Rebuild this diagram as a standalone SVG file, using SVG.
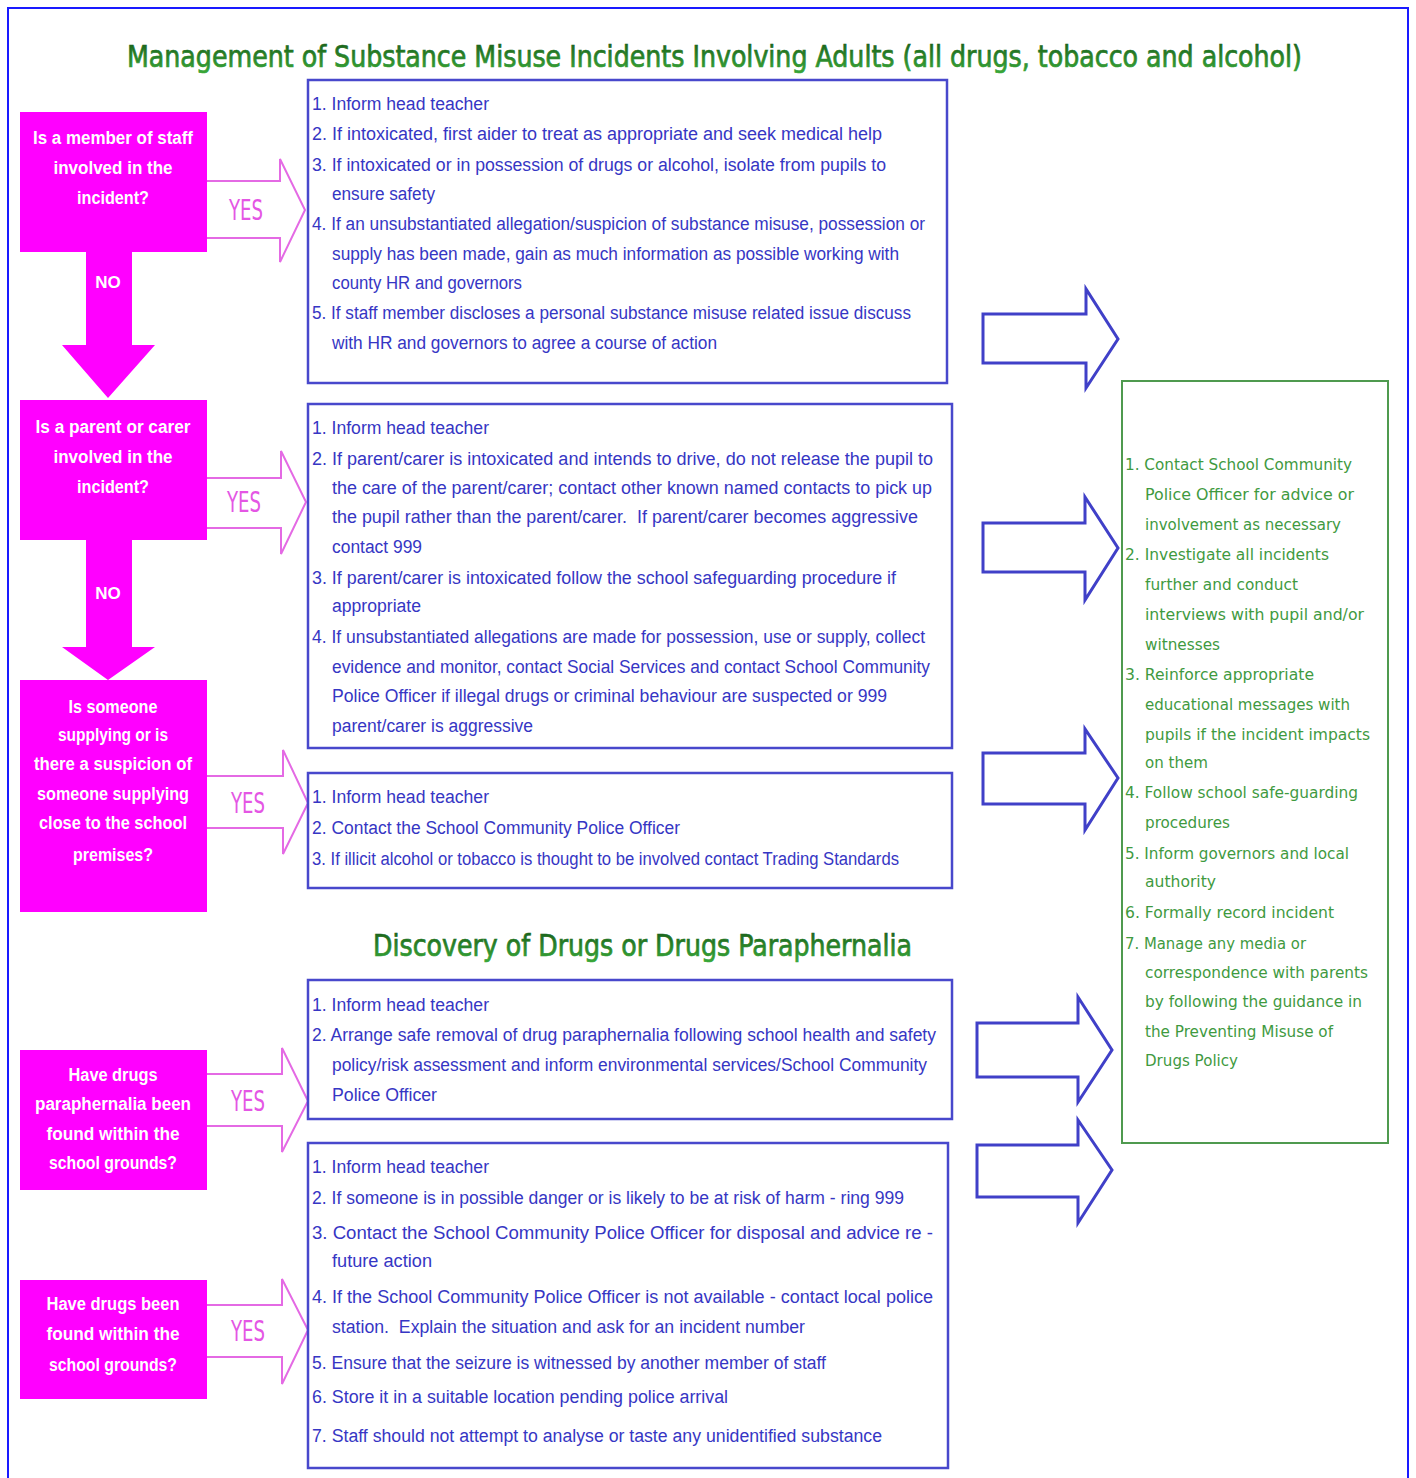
<svg xmlns="http://www.w3.org/2000/svg" width="1416" height="1478" viewBox="0 0 1416 1478">
<defs>
<linearGradient id="tg" x1="0" y1="0" x2="0" y2="1">
<stop offset="0" stop-color="#175a17"/>
<stop offset="1" stop-color="#3aaa3a"/>
</linearGradient>
<style>
.bt{font-family:"Liberation Sans",Arial,sans-serif;font-size:18px;fill:#3636c4}
.pt{font-family:"Liberation Sans",Arial,sans-serif;font-weight:bold;font-size:18px;fill:#ffffff;text-anchor:middle}
.gt{font-family:"DejaVu Sans",Verdana,sans-serif;font-size:15px;fill:#3f9a3f}
.yes{font-family:"DejaVu Sans Condensed","DejaVu Sans",sans-serif;font-size:28px;fill:#e456e4;text-anchor:middle}
.no{font-family:"Liberation Sans",Arial,sans-serif;font-weight:bold;font-size:17px;fill:#ffffff;text-anchor:middle}
.title{font-family:"DejaVu Sans Condensed","DejaVu Sans",sans-serif;font-size:30px;fill:url(#tg);stroke:url(#tg);stroke-width:0.7}
.pbox{fill:#ff00ff}
.bbox{fill:#ffffff;stroke:#4848cc;stroke-width:2.5}
.gbox{fill:#ffffff;stroke:#4f9a4f;stroke-width:2}
.parr{fill:#ff00ff}
.yarr{fill:#ffffff;stroke:#e46ae4;stroke-width:2}
.barr{fill:#ffffff;stroke:#4040c8;stroke-width:3}
</style>
</defs>
<rect x="0" y="0" width="1416" height="1478" fill="#ffffff"/>
<rect x="8" y="8" width="1400" height="1490" fill="none" stroke="#1a1aff" stroke-width="2"/>

<g id="titles">
<text class="title" x="127" y="67" textLength="1175" lengthAdjust="spacingAndGlyphs">Management of Substance Misuse Incidents Involving Adults (all drugs, tobacco and alcohol)</text>
<text class="title" x="373" y="956" textLength="539" lengthAdjust="spacingAndGlyphs">Discovery of Drugs or Drugs Paraphernalia</text>
</g>

<g id="connectors">
<path class="parr" d="M86,252 L132,252 L132,345 L155,345 L108,398 L62,345 L86,345 Z"/>
<text class="no" x="108" y="288">NO</text>
<path class="parr" d="M86,540 L132,540 L132,647 L155,647 L108,680 L62,647 L86,647 Z"/>
<text class="no" x="108" y="599">NO</text>

<path class="yarr" d="M207,181 L280,181 L280,159 L305,210 L280,262 L280,238 L207,238"/>
<text class="yes" x="246" y="220" textLength="34" lengthAdjust="spacingAndGlyphs">YES</text>
<path class="yarr" d="M207,478 L281,478 L281,451 L306,502 L281,554 L281,528 L207,528"/>
<text class="yes" x="244" y="512" textLength="34" lengthAdjust="spacingAndGlyphs">YES</text>
<path class="yarr" d="M207,776 L283,776 L283,750 L308,803 L283,854 L283,828 L207,828"/>
<text class="yes" x="248" y="813" textLength="34" lengthAdjust="spacingAndGlyphs">YES</text>
<path class="yarr" d="M207,1074 L282,1074 L282,1048 L308,1101 L282,1152 L282,1126 L207,1126"/>
<text class="yes" x="248" y="1111" textLength="34" lengthAdjust="spacingAndGlyphs">YES</text>
<path class="yarr" d="M207,1305 L282,1305 L282,1279 L308,1330 L282,1384 L282,1357 L207,1357"/>
<text class="yes" x="248" y="1341" textLength="34" lengthAdjust="spacingAndGlyphs">YES</text>

<path class="barr" d="M983,314 L1086,314 L1086,289 L1118,339 L1086,388 L1086,363 L983,363 Z"/>
<path class="barr" d="M983,523 L1085,523 L1085,497 L1118,548 L1085,600 L1085,572 L983,572 Z"/>
<path class="barr" d="M983,753 L1085,753 L1085,729 L1118,778 L1085,830 L1085,804 L983,804 Z"/>
<path class="barr" d="M977,1023 L1078,1023 L1078,997 L1112,1050 L1078,1102 L1078,1077 L977,1077 Z"/>
<path class="barr" d="M977,1145 L1078,1145 L1078,1120 L1112,1170 L1078,1223 L1078,1197 L977,1197 Z"/>
</g>

<g id="q-staff">
<rect class="pbox" x="20" y="112" width="187" height="140"/>
<text class="pt" x="113" y="144" textLength="160" lengthAdjust="spacingAndGlyphs">Is a member of staff</text>
<text class="pt" x="113" y="174" textLength="119" lengthAdjust="spacingAndGlyphs">involved in the</text>
<text class="pt" x="113" y="204" textLength="72" lengthAdjust="spacingAndGlyphs">incident?</text>
</g>

<g id="q-parent">
<rect class="pbox" x="20" y="400" width="187" height="140"/>
<text class="pt" x="113" y="433" textLength="155" lengthAdjust="spacingAndGlyphs">Is a parent or carer</text>
<text class="pt" x="113" y="463" textLength="119" lengthAdjust="spacingAndGlyphs">involved in the</text>
<text class="pt" x="113" y="493" textLength="72" lengthAdjust="spacingAndGlyphs">incident?</text>
</g>

<g id="q-supply">
<rect class="pbox" x="20" y="680" width="187" height="232"/>
<text class="pt" x="113" y="713" textLength="89" lengthAdjust="spacingAndGlyphs">Is someone</text>
<text class="pt" x="113" y="741" textLength="110" lengthAdjust="spacingAndGlyphs">supplying or is</text>
<text class="pt" x="113" y="770" textLength="158" lengthAdjust="spacingAndGlyphs">there a suspicion of</text>
<text class="pt" x="113" y="800" textLength="152" lengthAdjust="spacingAndGlyphs">someone supplying</text>
<text class="pt" x="113" y="829" textLength="148" lengthAdjust="spacingAndGlyphs">close to the school</text>
<text class="pt" x="113" y="861" textLength="80" lengthAdjust="spacingAndGlyphs">premises?</text>
</g>

<g id="q-paraphernalia">
<rect class="pbox" x="20" y="1050" width="187" height="140"/>
<text class="pt" x="113" y="1081" textLength="89" lengthAdjust="spacingAndGlyphs">Have drugs</text>
<text class="pt" x="113" y="1110" textLength="156" lengthAdjust="spacingAndGlyphs">paraphernalia been</text>
<text class="pt" x="113" y="1140" textLength="133" lengthAdjust="spacingAndGlyphs">found within the</text>
<text class="pt" x="113" y="1169" textLength="128" lengthAdjust="spacingAndGlyphs">school grounds?</text>
</g>

<g id="q-drugs">
<rect class="pbox" x="20" y="1280" width="187" height="119"/>
<text class="pt" x="113" y="1310" textLength="133" lengthAdjust="spacingAndGlyphs">Have drugs been</text>
<text class="pt" x="113" y="1340" textLength="133" lengthAdjust="spacingAndGlyphs">found within the</text>
<text class="pt" x="113" y="1371" textLength="128" lengthAdjust="spacingAndGlyphs">school grounds?</text>
</g>

<g id="a-staff">
<rect class="bbox" x="308" y="80" width="639" height="303"/>
<text class="bt" x="312" y="110" textLength="177" lengthAdjust="spacingAndGlyphs">1. Inform head teacher</text>
<text class="bt" x="312" y="140" textLength="570" lengthAdjust="spacingAndGlyphs">2. If intoxicated, first aider to treat as appropriate and seek medical help</text>
<text class="bt" x="312" y="171" textLength="574" lengthAdjust="spacingAndGlyphs">3. If intoxicated or in possession of drugs or alcohol, isolate from pupils to</text>
<text class="bt" x="332" y="200" textLength="103" lengthAdjust="spacingAndGlyphs">ensure safety</text>
<text class="bt" x="312" y="230" textLength="613" lengthAdjust="spacingAndGlyphs">4. If an unsubstantiated allegation/suspicion of substance misuse, possession or</text>
<text class="bt" x="332" y="260" textLength="567" lengthAdjust="spacingAndGlyphs">supply has been made, gain as much information as possible working with</text>
<text class="bt" x="332" y="289" textLength="190" lengthAdjust="spacingAndGlyphs">county HR and governors</text>
<text class="bt" x="312" y="319" textLength="599" lengthAdjust="spacingAndGlyphs">5. If staff member discloses a personal substance misuse related issue discuss</text>
<text class="bt" x="332" y="349" textLength="385" lengthAdjust="spacingAndGlyphs">with HR and governors to agree a course of action</text>
</g>

<g id="a-parent">
<rect class="bbox" x="308" y="404" width="644" height="344"/>
<text class="bt" x="312" y="434" textLength="177" lengthAdjust="spacingAndGlyphs">1. Inform head teacher</text>
<text class="bt" x="312" y="465" textLength="621" lengthAdjust="spacingAndGlyphs">2. If parent/carer is intoxicated and intends to drive, do not release the pupil to</text>
<text class="bt" x="332" y="494" textLength="600" lengthAdjust="spacingAndGlyphs">the care of the parent/carer; contact other known named contacts to pick up</text>
<text class="bt" x="332" y="523" textLength="586" lengthAdjust="spacingAndGlyphs" xml:space="preserve">the pupil rather than the parent/carer.  If parent/carer becomes aggressive</text>
<text class="bt" x="332" y="553" textLength="90" lengthAdjust="spacingAndGlyphs">contact 999</text>
<text class="bt" x="312" y="584" textLength="584" lengthAdjust="spacingAndGlyphs">3. If parent/carer is intoxicated follow the school safeguarding procedure if</text>
<text class="bt" x="332" y="612" textLength="89" lengthAdjust="spacingAndGlyphs">appropriate</text>
<text class="bt" x="312" y="643" textLength="613" lengthAdjust="spacingAndGlyphs">4. If unsubstantiated allegations are made for possession, use or supply, collect</text>
<text class="bt" x="332" y="673" textLength="598" lengthAdjust="spacingAndGlyphs">evidence and monitor, contact Social Services and contact School Community</text>
<text class="bt" x="332" y="702" textLength="555" lengthAdjust="spacingAndGlyphs">Police Officer if illegal drugs or criminal behaviour are suspected or 999</text>
<text class="bt" x="332" y="732" textLength="201" lengthAdjust="spacingAndGlyphs">parent/carer is aggressive</text>
</g>

<g id="a-supply">
<rect class="bbox" x="308" y="773" width="644" height="115"/>
<text class="bt" x="312" y="803" textLength="177" lengthAdjust="spacingAndGlyphs">1. Inform head teacher</text>
<text class="bt" x="312" y="834" textLength="368" lengthAdjust="spacingAndGlyphs">2. Contact the School Community Police Officer</text>
<text class="bt" x="312" y="865" textLength="587" lengthAdjust="spacingAndGlyphs">3. If illicit alcohol or tobacco is thought to be involved contact Trading Standards</text>
</g>

<g id="a-paraphernalia">
<rect class="bbox" x="308" y="980" width="644" height="139"/>
<text class="bt" x="312" y="1011" textLength="177" lengthAdjust="spacingAndGlyphs">1. Inform head teacher</text>
<text class="bt" x="312" y="1041" textLength="624" lengthAdjust="spacingAndGlyphs">2. Arrange safe removal of drug paraphernalia following school health and safety</text>
<text class="bt" x="332" y="1071" textLength="595" lengthAdjust="spacingAndGlyphs">policy/risk assessment and inform environmental services/School Community</text>
<text class="bt" x="332" y="1101" textLength="105" lengthAdjust="spacingAndGlyphs">Police Officer</text>
</g>

<g id="a-drugs">
<rect class="bbox" x="308" y="1143" width="640" height="325"/>
<text class="bt" x="312" y="1173" textLength="177" lengthAdjust="spacingAndGlyphs">1. Inform head teacher</text>
<text class="bt" x="312" y="1204" textLength="592" lengthAdjust="spacingAndGlyphs">2. If someone is in possible danger or is likely to be at risk of harm - ring 999</text>
<text class="bt" x="312" y="1239" textLength="621" lengthAdjust="spacingAndGlyphs">3. Contact the School Community Police Officer for disposal and advice re -</text>
<text class="bt" x="332" y="1267" textLength="100" lengthAdjust="spacingAndGlyphs">future action</text>
<text class="bt" x="312" y="1303" textLength="621" lengthAdjust="spacingAndGlyphs">4. If the School Community Police Officer is not available - contact local police</text>
<text class="bt" x="332" y="1333" textLength="473" lengthAdjust="spacingAndGlyphs" xml:space="preserve">station.  Explain the situation and ask for an incident number</text>
<text class="bt" x="312" y="1369" textLength="514" lengthAdjust="spacingAndGlyphs">5. Ensure that the seizure is witnessed by another member of staff</text>
<text class="bt" x="312" y="1403" textLength="416" lengthAdjust="spacingAndGlyphs">6. Store it in a suitable location pending police arrival</text>
<text class="bt" x="312" y="1442" textLength="570" lengthAdjust="spacingAndGlyphs">7. Staff should not attempt to analyse or taste any unidentified substance</text>
</g>

<g id="followup">
<rect class="gbox" x="1122" y="381" width="266" height="762"/>
<text class="gt" x="1125" y="470" textLength="227" lengthAdjust="spacingAndGlyphs">1. Contact School Community</text>
<text class="gt" x="1145" y="500" textLength="209" lengthAdjust="spacingAndGlyphs">Police Officer for advice or</text>
<text class="gt" x="1145" y="530" textLength="196" lengthAdjust="spacingAndGlyphs">involvement as necessary</text>
<text class="gt" x="1125" y="560" textLength="204" lengthAdjust="spacingAndGlyphs">2. Investigate all incidents</text>
<text class="gt" x="1145" y="590" textLength="153" lengthAdjust="spacingAndGlyphs">further and conduct</text>
<text class="gt" x="1145" y="620" textLength="219" lengthAdjust="spacingAndGlyphs">interviews with pupil and/or</text>
<text class="gt" x="1145" y="650" textLength="75" lengthAdjust="spacingAndGlyphs">witnesses</text>
<text class="gt" x="1125" y="680" textLength="189" lengthAdjust="spacingAndGlyphs">3. Reinforce appropriate</text>
<text class="gt" x="1145" y="710" textLength="205" lengthAdjust="spacingAndGlyphs">educational messages with</text>
<text class="gt" x="1145" y="740" textLength="225" lengthAdjust="spacingAndGlyphs">pupils if the incident impacts</text>
<text class="gt" x="1145" y="768" textLength="63" lengthAdjust="spacingAndGlyphs">on them</text>
<text class="gt" x="1125" y="798" textLength="233" lengthAdjust="spacingAndGlyphs">4. Follow school safe-guarding</text>
<text class="gt" x="1145" y="828" textLength="85" lengthAdjust="spacingAndGlyphs">procedures</text>
<text class="gt" x="1125" y="859" textLength="224" lengthAdjust="spacingAndGlyphs">5. Inform governors and local</text>
<text class="gt" x="1145" y="887" textLength="71" lengthAdjust="spacingAndGlyphs">authority</text>
<text class="gt" x="1125" y="918" textLength="209" lengthAdjust="spacingAndGlyphs">6. Formally record incident</text>
<text class="gt" x="1125" y="949" textLength="181" lengthAdjust="spacingAndGlyphs">7. Manage any media or</text>
<text class="gt" x="1145" y="978" textLength="223" lengthAdjust="spacingAndGlyphs">correspondence with parents</text>
<text class="gt" x="1145" y="1007" textLength="217" lengthAdjust="spacingAndGlyphs">by following the guidance in</text>
<text class="gt" x="1145" y="1037" textLength="188" lengthAdjust="spacingAndGlyphs">the Preventing Misuse of</text>
<text class="gt" x="1145" y="1066" textLength="93" lengthAdjust="spacingAndGlyphs">Drugs Policy</text>
</g>
</svg>
